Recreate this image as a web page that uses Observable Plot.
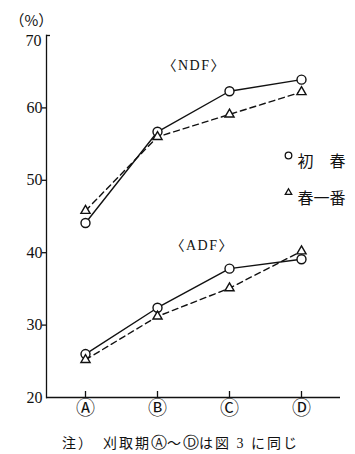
<!DOCTYPE html>
<html>
<head>
<meta charset="utf-8">
<script src="https://cdn.jsdelivr.net/npm/d3@7"></script>
<script src="https://cdn.jsdelivr.net/npm/@observablehq/plot@0.6"></script>
<style>
  body { margin: 0; background: #fff; width: 355px; height: 454px; overflow: hidden; }
  #chart svg { display: block; }
  .lbl text { letter-spacing: 1.5px; }
  #caption {
    font-family: "Liberation Serif", "Noto Sans CJK JP", serif;
    font-size: 14px; letter-spacing: 2px; line-height: 17px; height: 17px;
    margin-top: 14px; padding-left: 62px; color: #111; white-space: pre;
  }
  #caption .c { font-family: "DejaVu Sans"; font-size: 16px; letter-spacing: 0; line-height: 17px; }
</style>
</head>
<body>
<div id="chart"></div>
<div id="caption">注）　刈取期<span class="c">Ⓐ</span>～<span class="c">Ⓓ</span>は図 3 に同じ</div>
<script>
const periods = ["Ⓐ", "Ⓑ", "Ⓒ", "Ⓓ"];
const varieties = ["初　春", "春一番"];
const ndfShoshun = [44.1, 56.7, 62.3, 63.9];
const ndfHaruichiban = [45.8, 56.0, 59.1, 62.2];
const adfShoshun = [26.0, 32.4, 37.8, 39.1];
const adfHaruichiban = [25.2, 31.2, 35.1, 40.2];
const yTicks = [20, 30, 40, 50, 60, 70];

const series = [
  {fiber: "NDF", variety: varieties[0], values: ndfShoshun},
  {fiber: "NDF", variety: varieties[1], values: ndfHaruichiban},
  {fiber: "ADF", variety: varieties[0], values: adfShoshun},
  {fiber: "ADF", variety: varieties[1], values: adfHaruichiban}
];
const rows = series.flatMap(s => s.values.map((v, i) => ({
  period: periods[i], value: v, variety: s.variety, fiber: s.fiber, key: s.fiber + s.variety
})));
const solid = rows.filter(d => d.variety === varieties[0]);
const dashed = rows.filter(d => d.variety === varieties[1]);

const serif = "Liberation Serif, Noto Sans CJK JP, serif";
const cjk = "Noto Sans CJK JP, sans-serif";
const ink = "#111";

const chart = Plot.plot({
  width: 355,
  height: 420,
  marginLeft: 46,
  marginRight: 15,
  marginTop: 35,
  marginBottom: 23,
  style: {background: "#fff", color: ink},
  x: {type: "point", domain: periods, padding: 0.52, axis: null},
  y: {domain: [20, 70], axis: null},
  marks: [
    Plot.frame({anchor: "left", stroke: ink, strokeWidth: 1.3}),
    Plot.ruleY([20], {stroke: ink, strokeWidth: 1.3}),
    Plot.axisY({ticks: yTicks.slice(0, -1), tickSize: 0, tickPadding: 4, fontSize: 16, fontFamily: serif, fill: ink, label: null}),
    Plot.axisY({ticks: yTicks.slice(-1), tickSize: 0, tickPadding: 5, dy: 5, fontSize: 16, fontFamily: serif, fill: ink, label: null}),
    Plot.axisY({ticks: yTicks.slice(1, -1), tickSize: 4, tickFormat: () => "", label: null, strokeWidth: 1.3}),
    Plot.axisY({ticks: yTicks.slice(-1), tickSize: 4, dx: 4, tickFormat: () => "", label: null, strokeWidth: 1.3}),
    Plot.axisX({tickSize: 0, tickPadding: 4, fontSize: 19, fontFamily: "DejaVu Sans, Noto Sans CJK JP", fill: ink, label: null}),
    Plot.axisX({tickSize: 6, dy: -6, tickFormat: () => "", label: null, strokeWidth: 1.3}),
    Plot.line(solid, {x: "period", y: "value", z: "key", stroke: ink, strokeWidth: 1.4}),
    Plot.line(dashed, {x: "period", y: "value", z: "key", stroke: ink, strokeWidth: 1.4, strokeDasharray: "6,4"}),
    Plot.dot(solid, {x: "period", y: "value", r: 4.5, symbol: "circle", fill: "#fff", stroke: ink, strokeWidth: 1.4}),
    Plot.dot(dashed, {x: "period", y: "value", r: 3.4, symbol: "triangle", fill: "#fff", stroke: ink, strokeWidth: 1.4}),
    Plot.text(["（%）"], {frameAnchor: "top-left", dx: -37, dy: -20, textAnchor: "start", fontSize: 15, fontFamily: cjk, fill: ink}),
    Plot.text(["〈NDF〉"], {frameAnchor: "top-left", dx: 116, dy: 25, fontSize: 14, fontFamily: serif, fill: ink, className: "lbl"}),
    Plot.text(["〈ADF〉"], {frameAnchor: "top-left", dx: 124, dy: 205, fontSize: 14, fontFamily: serif, fill: ink, className: "lbl"}),
    Plot.dot([varieties[0]], {frameAnchor: "top-right", dx: -52, dy: 120, r: 3.3, symbol: "circle", fill: "#fff", stroke: ink, strokeWidth: 1.3}),
    Plot.dot([varieties[1]], {frameAnchor: "top-right", dx: -52, dy: 157, r: 2.4, symbol: "triangle", fill: "#fff", stroke: ink, strokeWidth: 1.3}),
    Plot.text([varieties[0]], {frameAnchor: "top-right", dx: -43, dy: 120, textAnchor: "start", fontSize: 16, fontFamily: cjk, fill: ink}),
    Plot.text([varieties[1]], {frameAnchor: "top-right", dx: -43, dy: 157, textAnchor: "start", fontSize: 16, fontFamily: cjk, fill: ink})
  ]
});
document.getElementById("chart").appendChild(chart);
</script>
</body>
</html>
